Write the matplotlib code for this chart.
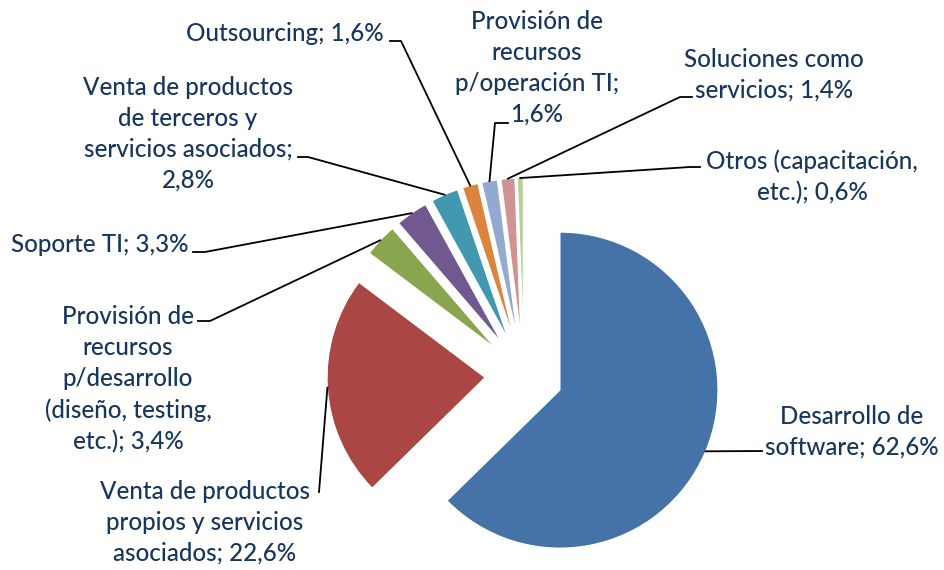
import numpy as np
import matplotlib
matplotlib.use("Agg")
import matplotlib.pyplot as plt

# datos del gráfico
categorias = [
    "Desarrollo de\nsoftware; 62,6%",
    "Venta de productos\npropios y servicios\nasociados; 22,6%",
    "Provisión de\nrecursos\np/desarrollo\n(diseño, testing,\netc.); 3,4%",
    "Soporte TI; 3,3%",
    "Venta de productos\nde terceros y\nservicios asociados;\n2,8%",
    "Outsourcing; 1,6%",
    "Provisión de\nrecursos\np/operación TI;\n1,6%",
    "Soluciones como\nservicios; 1,4%",
    "Otros (capacitación,\netc.); 0,6%",
]
valores = [62.6, 22.6, 3.4, 3.3, 2.8, 1.6, 1.6, 1.4, 0.6]
colores = ["#4572A7", "#AA4643", "#89A54E", "#71588F", "#4198AF",
           "#DB843D", "#93A9CF", "#D19392", "#B9CD96"]

# posiciones de etiquetas (pixeles de imagen: x, y del centro del texto)
pos_texto = [(852, 432), (205, 522), (128, 379), (100, 244), (188, 134),
             (285, 33), (537, 68), (774, 75), (812, 177)]
# codos de las líneas guía (inicio junto al texto, codo)
guia = [((762, 451), None), ((319, 492), None), ((198, 321), (210, 321)),
        ((193, 252), (205, 252)), ((298, 157), (308, 157)),
        ((390, 41), (401, 41)), ((508, 123), (495, 123)),
        ((692, 97), (680, 97)), ((700, 167), (690, 167))]

W, H = 945, 570
centro = (524, H - 375)
radio = 158
explosion = 39
color_texto = "#17365D"

plt.rcParams['font.family'] = ['Lato', 'DejaVu Sans']

fig = plt.figure(figsize=(9.45, 5.7), dpi=100)
ax = fig.add_axes([0, 0, 1, 1])

wedges, _ = ax.pie(valores, colors=colores, startangle=90, counterclock=False,
                   center=centro, radius=radio, explode=[explosion] * len(valores),
                   wedgeprops=dict(edgecolor="white", linewidth=0.8))

ax.set_xlim(0, W)
ax.set_ylim(0, H)
ax.set_aspect("equal")
ax.axis("off")

for w, txt, (tx, ty), (p0, p1) in zip(wedges, categorias, pos_texto, guia):
    ang = np.deg2rad((w.theta1 + w.theta2) / 2)
    cx, cy = w.center
    ax_pt = (cx + radio * np.cos(ang), cy + radio * np.sin(ang))
    xs = [p0[0]] + ([p1[0]] if p1 else []) + [ax_pt[0]]
    ys = [H - p0[1]] + ([H - p1[1]] if p1 else []) + [ax_pt[1]]
    ax.plot(xs, ys, color="black", lw=1.3)
    ax.text(tx, H - ty, txt, ha="center", va="center", fontsize=17.4,
            color=color_texto, linespacing=1.42, fontweight="medium")

fig.savefig("out.png", dpi=100)
